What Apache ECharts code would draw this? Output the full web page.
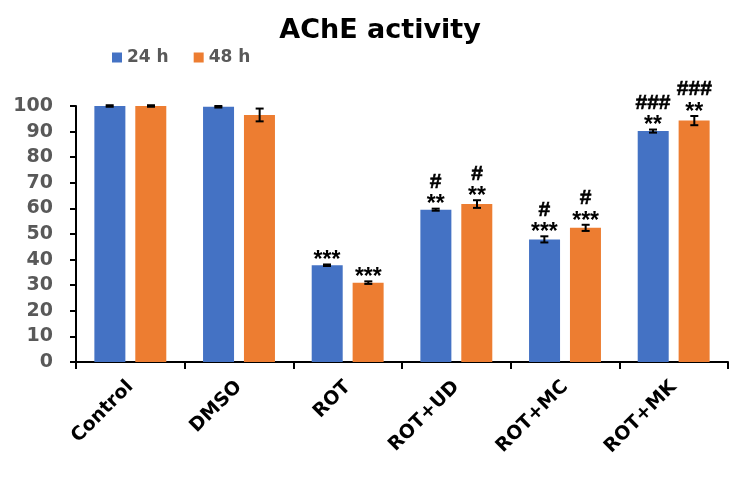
<!DOCTYPE html>
<html>
<head>
<meta charset="utf-8">
<script src="https://cdn.jsdelivr.net/npm/echarts@6/dist/echarts.min.js"></script>
<style>html,body{margin:0;padding:0;background:#fff}#c{width:745px;height:480px}</style>
</head>
<body>
<div id="c"></div>
<script>
var categories = ['Control', 'DMSO', 'ROT', 'ROT+UD', 'ROT+MC', 'ROT+MK'];
var seriesNames = ['24 h', '48 h'];
var values24 = [100, 99.7, 37.8, 59.5, 47.9, 90.2];
var values48 = [100, 96.5, 31.0, 61.7, 52.4, 94.3];
var err24 = [0.3, 0.3, 0.3, 0.4, 1.2, 0.6];
var err48 = [0.3, 2.5, 0.5, 1.5, 1.2, 1.8];
var stars24 = ['', '', '***', '**', '***', '**'];
var stars48 = ['', '', '***', '**', '***', '**'];
var hash24 = ['', '', '', '#', '#', '###'];
var hash48 = ['', '', '', '#', '#', '###'];
var yTicks = [0, 100, 10];

var FONT = '"DejaVu Sans", sans-serif';
var AFONT = '"Liberation Sans", Arial, sans-serif';
var chart = echarts.init(document.getElementById('c'));

function errSeries(idx, vals, errs, stars, hashes) {
  var data = vals.map(function (v, i) { return [i, v, errs[i], stars[i], hashes[i]]; });
  return {
    type: 'custom',
    name: 'err' + idx,
    z: 10,
    silent: true,
    encode: { x: 0, y: 1 },
    data: data,
    renderItem: function (params, api) {
      var i = api.value(0), v = api.value(1), e = api.value(2);
      var s = data[params.dataIndex][3], h = data[params.dataIndex][4];
      var bw = api.size([1, 0])[0];
      var off = (idx === 0 ? -1 : 1) * bw * 0.19;
      var top = api.coord([i, v + e]);
      var bot = api.coord([i, v - e]);
      var x = top[0] + off;
      var cap = 4;
      var st = { stroke: '#000', lineWidth: 2 };
      var children = [
        { type: 'line', shape: { x1: x, y1: top[1], x2: x, y2: bot[1] }, style: st },
        { type: 'line', shape: { x1: x - cap, y1: top[1], x2: x + cap, y2: top[1] }, style: st },
        { type: 'line', shape: { x1: x - cap, y1: bot[1], x2: x + cap, y2: bot[1] }, style: st }
      ];
      if (s) {
        children.push({ type: 'text', style: { x: x, y: top[1] + 8, text: s, fill: '#000',
          font: 'bold 23px ' + AFONT, align: 'center', verticalAlign: 'bottom' } });
      }
      if (h) {
        children.push({ type: 'text', style: { x: x, y: top[1] - 16, text: h, fill: '#000',
          font: 'bold 21px ' + AFONT, align: 'center', verticalAlign: 'bottom',
          stroke: '#000', lineWidth: 0.6 } });
      }
      return { type: 'group', children: children };
    }
  };
}

chart.setOption({
  animation: false,
  title: {
    text: 'AChE activity', left: 375, top: 12, textAlign: 'center',
    textStyle: { fontFamily: FONT, fontSize: 27, fontWeight: 'bold', color: '#000' }
  },
  legend: {
    data: seriesNames, left: 107, top: 44, icon: 'rect', itemWidth: 10, itemHeight: 10, itemGap: 25,
    textStyle: { fontFamily: FONT, fontSize: 17, fontWeight: 'bold', color: '#595959' }
  },
  grid: { left: 76, right: 17, top: 106, bottom: 118, containLabel: false },
  xAxis: {
    type: 'category', data: categories,
    axisLine: { lineStyle: { color: '#000', width: 2 } },
    axisTick: { show: true, length: 7, lineStyle: { color: '#000', width: 2 } },
    axisLabel: { rotate: 45, margin: 22, fontFamily: FONT, fontSize: 19, fontWeight: 'bold', color: '#000' }
  },
  yAxis: {
    type: 'value', min: yTicks[0], max: yTicks[1], interval: yTicks[2],
    splitLine: { show: false },
    axisLine: { show: true, lineStyle: { color: '#000', width: 2 } },
    axisTick: { show: true, length: 6, lineStyle: { color: '#000', width: 2 } },
    axisLabel: { margin: 23, fontFamily: FONT, fontSize: 19, fontWeight: 'bold', color: '#595959' }
  },
  series: [
    { name: seriesNames[0], type: 'bar', data: values24, barWidth: 31, barGap: '32%',
      itemStyle: { color: '#4472C4' } },
    { name: seriesNames[1], type: 'bar', data: values48, barWidth: 31,
      itemStyle: { color: '#ED7D31' } },
    errSeries(0, values24, err24, stars24, hash24),
    errSeries(1, values48, err48, stars48, hash48)
  ]
});
</script>
</body>
</html>
